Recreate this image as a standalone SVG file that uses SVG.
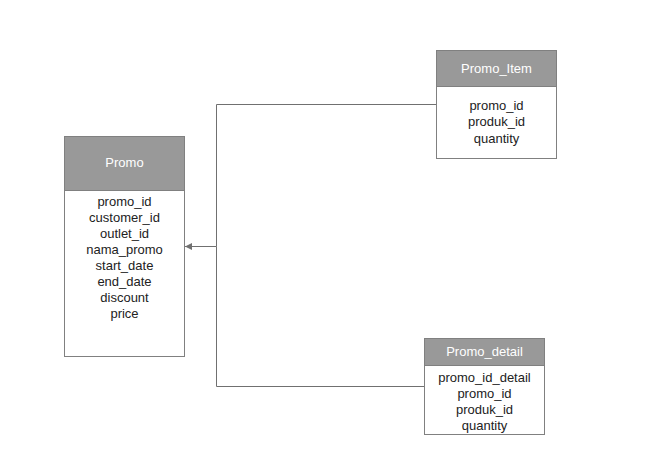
<svg xmlns="http://www.w3.org/2000/svg" width="648" height="466" viewBox="0 0 648 466">
<style>
.box{fill:#fff;stroke:#808080;stroke-width:1}
.hdr{fill:#999;stroke:#808080;stroke-width:1}
.t{font-family:"Liberation Sans",Arial,sans-serif;font-size:13px;fill:#222;text-anchor:middle}
.h{font-family:"Liberation Sans",Arial,sans-serif;font-size:13px;fill:#fff;text-anchor:middle}
.c{fill:none;stroke:#707070;stroke-width:1}
</style>
<defs>
<marker id="arr" markerWidth="8" markerHeight="8" refX="7" refY="4" orient="auto" markerUnits="userSpaceOnUse">
<path d="M0,0.5 L7,4 L0,7.5 Z" fill="#707070"/>
</marker>
</defs>
<rect width="648" height="466" fill="#fff"/>
<g id="connectors">
<path class="c" d="M436.5,104.5 H216.5 V246.5 H185" marker-end="url(#arr)"/>
<path class="c" d="M424.5,386.5 H216.5 V246.5"/>
</g>
<g id="promo">
<rect class="box" x="64.5" y="136.5" width="120" height="220"/>
<rect class="hdr" x="64.5" y="136.5" width="120" height="54"/>
<text class="h" x="124.5" y="167">Promo</text>
<text class="t" x="124.5" y="205.5">promo_id</text>
<text class="t" x="124.5" y="221.5">customer_id</text>
<text class="t" x="124.5" y="237.5">outlet_id</text>
<text class="t" x="124.5" y="253.5">nama_promo</text>
<text class="t" x="124.5" y="269.5">start_date</text>
<text class="t" x="124.5" y="285.5">end_date</text>
<text class="t" x="124.5" y="301.5">discount</text>
<text class="t" x="124.5" y="317.5">price</text>
</g>
<g id="promo_item">
<rect class="box" x="436.5" y="50.5" width="120" height="108"/>
<rect class="hdr" x="436.5" y="50.5" width="120" height="36"/>
<text class="h" x="496.5" y="72.5">Promo_Item</text>
<text class="t" x="496.5" y="109.5">promo_id</text>
<text class="t" x="496.5" y="126">produk_id</text>
<text class="t" x="496.5" y="142.5">quantity</text>
</g>
<g id="promo_detail">
<rect class="box" x="424.5" y="338.5" width="120" height="96"/>
<rect class="hdr" x="424.5" y="338.5" width="120" height="27"/>
<text class="h" x="484.5" y="356">Promo_detail</text>
<text class="t" x="484.5" y="381.5">promo_id_detail</text>
<text class="t" x="484.5" y="397.5">promo_id</text>
<text class="t" x="484.5" y="413.5">produk_id</text>
<text class="t" x="484.5" y="429.5">quantity</text>
</g>
</svg>
